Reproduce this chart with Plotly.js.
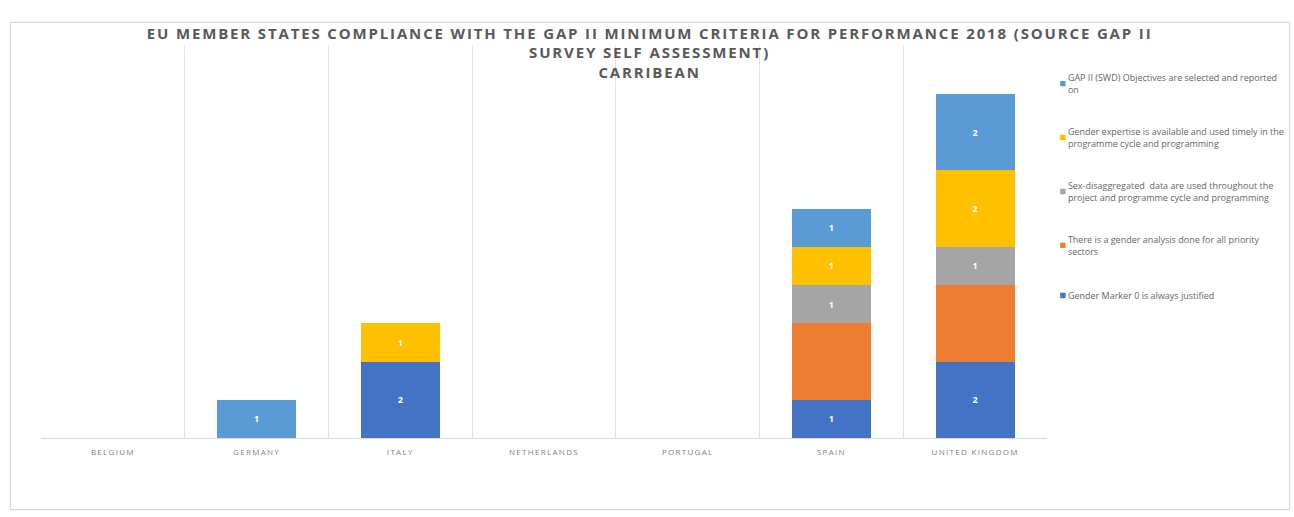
<!DOCTYPE html>
<html>
<head>
<meta charset="utf-8">
<script src="https://cdn.plot.ly/plotly-3.0.1.min.js"></script>
<style>
  html, body { margin: 0; padding: 0; background: #fff; }
  #frame { position: absolute; left: 10px; top: 22px; width: 1278px; height: 486px; border: 1px solid #d9d9d9; box-shadow: 0 0 2px #e5e5e5; }
  #chart { position: absolute; left: 0; top: 0; width: 1294px; height: 517px; }
  .xtick text { letter-spacing: 1.3px; }
  .gtitle { letter-spacing: 1.85px; }
  .legend .legendpoints { transform: translate(26px, 0px) scale(0.45); }
</style>
</head>
<body>
<div id="frame"></div>
<div id="chart"></div>
<script>
const countries = ["BELGIUM", "GERMANY", "ITALY", "NETHERLANDS", "PORTUGAL", "SPAIN", "UNITED KINGDOM"];

const seriesNames = [
  "Gender Marker 0 is always justified",
  "There is a gender analysis done for all priority<br>sectors",
  "Sex-disaggregated  data are used throughout the<br>project and programme cycle and programming",
  "Gender expertise is available and used timely in the<br>programme cycle and programming",
  "GAP II (SWD) Objectives are selected and reported<br>on"
];

const genderMarker0   = [null, null, 2, null, null, 1, 2];
const genderAnalysis  = [null, null, null, null, null, 2, 2];
const sexDisaggData   = [null, null, null, null, null, 1, 1];
const genderExpertise = [null, null, 1, null, null, 1, 2];
const gapObjectives   = [null, 1, null, null, null, 1, 2];

const seriesValues = [genderMarker0, genderAnalysis, sexDisaggData, genderExpertise, gapObjectives];
const seriesColors = ["#4472C4", "#ED7D31", "#A5A5A5", "#FFC000", "#5B9BD5"];
const showLabels = [true, false, true, true, true];

const traces = seriesValues.map((vals, i) => ({
  type: "bar",
  name: seriesNames[i],
  x: countries,
  y: vals,
  marker: { color: seriesColors[i] },
  text: showLabels[i] ? vals.map(v => v == null ? "" : String(v)) : vals.map(() => ""),
  textposition: "inside",
  insidetextanchor: "middle",
  textfont: { color: "#ffffff", size: 9, family: "Open Sans, Arial, sans-serif", weight: "bold" },
  hoverinfo: "x+y+name",
  legendgroup: "g" + i,
  legendrank: 10 - i,
  cliponaxis: false
}));

const layout = {
  width: 1294,
  height: 517,
  paper_bgcolor: "rgba(0,0,0,0)",
  plot_bgcolor: "rgba(0,0,0,0)",
  barmode: "stack",
  bargap: 0.45,
  margin: { l: 41, r: 247, t: 45, b: 79, autoexpand: false },
  title: {
    text: "EU MEMBER STATES COMPLIANCE WITH THE GAP II MINIMUM CRITERIA FOR PERFORMANCE 2018 (SOURCE GAP II<br>SURVEY SELF ASSESSMENT)<br>CARRIBEAN",
    font: { family: "Open Sans, Arial, sans-serif", size: 15, color: "#595959", weight: "bold" },
    x: 0.502, xref: "container", xanchor: "center",
    y: 0.9246, yref: "container", yanchor: "top"
  },
  xaxis: {
    type: "category",
    tickson: "boundaries",
    showgrid: true,
    gridcolor: "#e3e3e3",
    gridwidth: 1,
    showline: true,
    linecolor: "#d9d9d9",
    linewidth: 1,
    ticks: "",
    ticklabelstandoff: 6,
    tickfont: { family: "Open Sans, Arial, sans-serif", size: 8, color: "#808080" },
    fixedrange: true
  },
  yaxis: {
    range: [0, 10.28],
    visible: false,
    showgrid: false,
    zeroline: false,
    fixedrange: true
  },
  showlegend: true,
  legend: {
    x: 0.981, xanchor: "left",
    y: 0.948, yanchor: "top",
    traceorder: "grouped",
    font: { family: "Open Sans, Arial, sans-serif", size: 9, color: "#666666" },
    bgcolor: "rgba(0,0,0,0)",
    itemwidth: 30,
    tracegroupgap: 27.5
  }
};

Plotly.newPlot("chart", traces, layout, { displayModeBar: false, responsive: false });
</script>
</body>
</html>
